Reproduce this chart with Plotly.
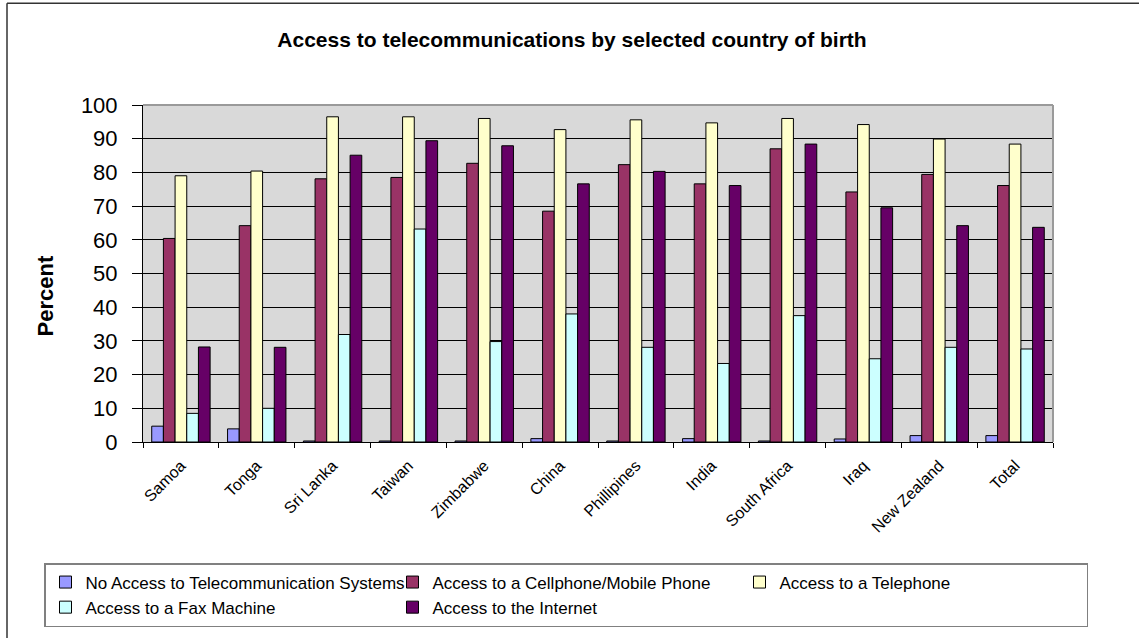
import plotly.graph_objects as go

# data
countries = ["Samoa", "Tonga", "Sri Lanka", "Taiwan", "Zimbabwe", "China",
             "Phillipines", "India", "South Africa", "Iraq", "New Zealand", "Total"]
no_access = [4.7, 3.9, 0.3, 0.3, 0.3, 1.0, 0.3, 1.0, 0.3, 0.9, 1.9, 1.9]
cellphone = [60.4, 64.2, 78.1, 78.5, 82.7, 68.5, 82.3, 76.6, 87.0, 74.2, 79.4, 76.1]
telephone = [79.0, 80.4, 96.5, 96.5, 96.0, 92.7, 95.6, 94.7, 96.0, 94.2, 89.9, 88.4]
fax = [8.5, 10.0, 31.9, 63.2, 29.8, 38.0, 28.1, 23.3, 37.5, 24.7, 28.1, 27.6]
internet = [28.2, 28.1, 85.1, 89.4, 87.9, 76.6, 80.3, 76.1, 88.4, 69.5, 64.2, 63.7]

series = [
    ("No Access to Telecommunication Systems", no_access, "#9999FF"),
    ("Access to a Cellphone/Mobile Phone", cellphone, "#993366"),
    ("Access to a Telephone", telephone, "#FFFFCC"),
    ("Access to a Fax Machine", fax, "#CCFFFF"),
    ("Access to the Internet", internet, "#660066"),
]

W, H = 1139, 638
L, R, T, B = 143, 86, 105, 195
PW, PH = W - L - R, H - T - B


def px_x(x):
    # pixel -> paper x
    return (x - L) / PW


def px_y(y):
    # pixel -> paper y
    return (H - B - y) / PH


fig = go.Figure()
for name, vals, color in series:
    fig.add_trace(go.Bar(
        x=countries, y=vals, name=name,
        marker=dict(color=color, line=dict(color="black", width=1)),
    ))

font = "Arial, Liberation Sans, sans-serif"

fig.update_layout(
    width=W, height=H,
    margin=dict(l=L, r=R, t=T, b=B),
    paper_bgcolor="white",
    plot_bgcolor="#D9D9D9",
    font=dict(family=font, color="black"),
    barmode="group",
    bargap=0.23,
    bargroupgap=0,
    title=dict(
        text="<b>Access to telecommunications by selected country of birth</b>",
        x=572 / W, xanchor="center", y=1 - 40 / H, yanchor="middle",
        font=dict(size=21, family=font, color="black"),
    ),
    xaxis=dict(
        tickangle=-45, tickfont=dict(size=16), ticklabelstandoff=7,
        ticks="outside", ticklen=5, tickcolor="black", tickson="boundaries",
        showline=True, linecolor="black", linewidth=1,
        showgrid=False,
    ),
    yaxis=dict(
        range=[0, 100], dtick=10, tickfont=dict(size=22),
        ticks="outside", ticklen=10, tickcolor="black", ticklabelstandoff=10,
        showline=True, linecolor="black", linewidth=1,
        gridcolor="black", gridwidth=1, zeroline=False,
    ),
    showlegend=True,
    legend=dict(
        orientation="h", x=px_x(44), xanchor="left", y=px_y(563), yanchor="top",
        bordercolor="#808080", borderwidth=1.5, bgcolor="white",
        font=dict(size=17, family=font),
        entrywidth=302, entrywidthmode="pixels",
        itemwidth=30, traceorder="normal",
    ),
    annotations=[
        dict(text="<b>Percent</b>", textangle=-90, showarrow=False,
             xref="paper", yref="paper", x=px_x(45), y=px_y(297),
             xanchor="center", yanchor="middle",
             font=dict(size=22, family=font, color="black")),
    ],
    shapes=[
        # plot area border, top and right
        dict(type="line", xref="paper", yref="paper", x0=0, x1=1, y0=1, y1=1,
             line=dict(color="#9A9A9A", width=2), layer="above"),
        dict(type="line", xref="paper", yref="paper", x0=1, x1=1, y0=0, y1=1,
             line=dict(color="#9A9A9A", width=2), layer="above"),
        # outer chart frame
        dict(type="line", xref="paper", yref="paper", x0=px_x(7), x1=px_x(7),
             y0=px_y(3), y1=px_y(700), line=dict(color="#333333", width=1.5)),
        dict(type="line", xref="paper", yref="paper", x0=px_x(7), x1=px_x(1200),
             y0=px_y(3), y1=px_y(3), line=dict(color="#333333", width=1.5)),
    ],
)

# drop the default body margin so the figure sits at the window's corner
fig.write_html("out.html", config={"displayModeBar": False},
               post_script="document.body.style.margin='0';")
